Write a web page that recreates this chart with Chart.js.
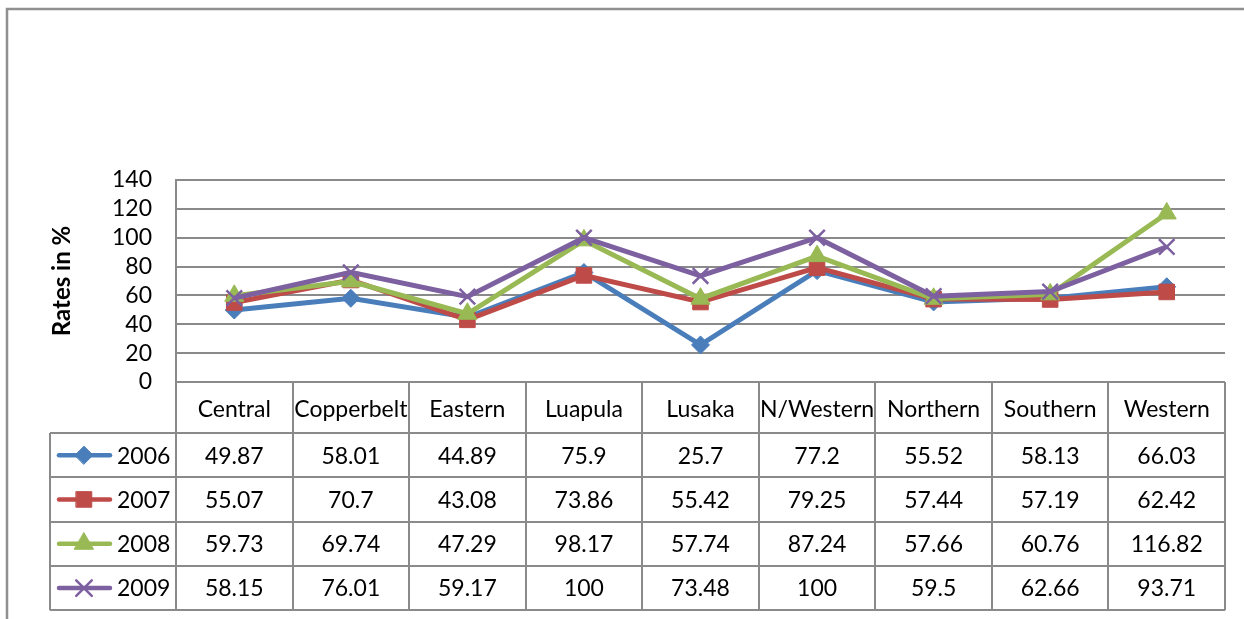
<!DOCTYPE html>
<html>
<head>
<meta charset="utf-8">
<script src="https://cdn.jsdelivr.net/npm/chart.js@4/dist/chart.umd.min.js"></script>
<style>
    html, body { margin: 0; padding: 0; background: #fff; }
    #wrap { width: 1244px; height: 619px; position: relative; }
</style>
</head>
<body>
<div id="wrap"><canvas id="lineChart" width="1244" height="619"></canvas></div>
<script>
    // data
    var provinces = ['Central', 'Copperbelt', 'Eastern', 'Luapula', 'Lusaka', 'N/Western', 'Northern', 'Southern', 'Western'];
    var years = ['2006', '2007', '2008', '2009'];
    var rates2006 = [49.87, 58.01, 44.89, 75.9, 25.7, 77.2, 55.52, 58.13, 66.03];
    var rates2007 = [55.07, 70.7, 43.08, 73.86, 55.42, 79.25, 57.44, 57.19, 62.42];
    var rates2008 = [59.73, 69.74, 47.29, 98.17, 57.74, 87.24, 57.66, 60.76, 116.82];
    var rates2009 = [58.15, 76.01, 59.17, 100, 73.48, 100, 59.5, 62.66, 93.71];
    var yTicks = [0, 20, 40, 60, 80, 100, 120, 140];

    var FONT = 'Lato, "Open Sans", sans-serif';
    var GRID = '#8a8a8a';

    var series = [
        { label: years[0], data: rates2006, color: '#4a7ebb', style: 'rectRot', radius: 9, bw: 1 },
        { label: years[1], data: rates2007, color: '#be4b48', style: 'rect', radius: 11, bw: 1 },
        { label: years[2], data: rates2008, color: '#98b954', style: 'triangle', radius: 11, bw: 1 },
        { label: years[3], data: rates2009, color: '#7d60a0', style: 'crossRot', radius: 11, bw: 2.5 }
    ];

    // table + frame drawn under the plot, using the x scale's columns
    var dataTable = {
        id: 'dataTable',
        afterDraw: function (chart) {
            var ctx = chart.ctx;
            var area = chart.chartArea;
            var xs = chart.scales.x;
            var colW = (area.right - area.left) / provinces.length;
            var catBottom = area.bottom + 51;
            var rowH = 44.3;
            var tableBottom = catBottom + rowH * series.length;
            var legLeft = 50;

            ctx.save();
            // outer frame
            ctx.strokeStyle = '#909090';
            ctx.lineWidth = 2.5;
            ctx.beginPath();
            ctx.moveTo(7, 625);
            ctx.lineTo(7, 9);
            ctx.lineTo(1250, 9);
            ctx.stroke();

            ctx.strokeStyle = GRID;
            ctx.lineWidth = 2;
            ctx.beginPath();
            // verticals of the category columns
            for (var i = 0; i <= provinces.length; i++) {
                var x = Math.round(area.left + i * colW);
                ctx.moveTo(x, area.bottom);
                ctx.lineTo(x, tableBottom);
            }
            ctx.moveTo(legLeft, catBottom);
            ctx.lineTo(legLeft, tableBottom);
            // horizontals of the series rows
            for (var r = 0; r <= series.length; r++) {
                var y = Math.round(catBottom + r * rowH);
                ctx.moveTo(legLeft, y);
                ctx.lineTo(area.right, y);
            }
            ctx.stroke();

            ctx.fillStyle = '#000';
            ctx.textAlign = 'center';
            ctx.textBaseline = 'middle';
            ctx.font = '23px ' + FONT;
            provinces.forEach(function (p, i) {
                ctx.fillText(p, xs.getPixelForValue(i), area.bottom + 28);
            });

            series.forEach(function (s, r) {
                var cy = catBottom + r * rowH + rowH / 2 + 1;
                s.data.forEach(function (v, i) {
                    ctx.fillText(String(v), xs.getPixelForValue(i), cy);
                });
                // legend key
                ctx.strokeStyle = s.color;
                ctx.lineWidth = 4.5;
                ctx.lineCap = 'round';
                ctx.beginPath();
                ctx.moveTo(59, cy - 1);
                ctx.lineTo(110, cy - 1);
                ctx.stroke();
                ctx.fillStyle = s.color;
                ctx.strokeStyle = s.color;
                ctx.lineWidth = s.bw;
                Chart.helpers.drawPoint(ctx, { pointStyle: s.style, radius: s.radius, rotation: 0, borderWidth: s.bw }, 84, cy - 1);
                ctx.fillStyle = '#000';
                ctx.textAlign = 'left';
                ctx.fillText(s.label, 117, cy);
                ctx.textAlign = 'center';
            });
            ctx.restore();
        }
    };

    var ctx = document.getElementById('lineChart').getContext('2d');
    var myChart = new Chart(ctx, {
        type: 'line',
        data: {
            labels: provinces,
            datasets: series.map(function (s, i) {
                return {
                    label: s.label,
                    data: s.data,
                    borderColor: s.color,
                    backgroundColor: s.color,
                    borderWidth: 5,
                    pointStyle: s.style,
                    pointRadius: s.radius,
                    pointBorderWidth: s.bw,
                    pointHoverRadius: s.radius,
                    tension: 0,
                    order: series.length - i
                };
            })
        },
        options: {
            responsive: false,
            animation: false,
            layout: { padding: { left: 48, right: 19, top: 180, bottom: 237 } },
            plugins: { legend: { display: false }, tooltip: { enabled: false } },
            scales: {
                x: {
                    offset: true,
                    display: false
                },
                y: {
                    min: 0,
                    max: 140,
                    afterBuildTicks: function (scale) {
                        scale.ticks = yTicks.map(function (v) { return { value: v }; });
                    },
                    afterFit: function (scale) { scale.width = 128; },
                    grid: { color: GRID, lineWidth: 2, drawTicks: false },
                    border: { display: true, color: GRID, width: 2 },
                    ticks: { color: '#000', padding: 24, autoSkip: false, font: { family: FONT, size: 23 } },
                    title: {
                        display: true,
                        text: 'Rates in %',
                        color: '#000',
                        padding: 0,
                        font: { family: FONT, size: 24, weight: 'bold' }
                    }
                }
            }
        },
        plugins: [dataTable]
    });
</script>
</body>
</html>
